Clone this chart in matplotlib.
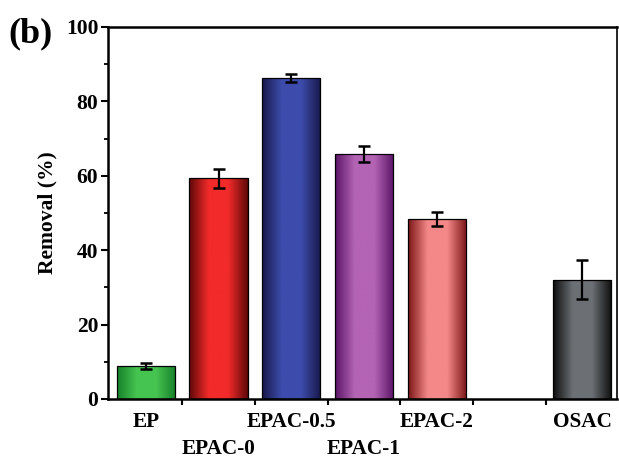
import matplotlib.pyplot as plt
import numpy as np
from matplotlib.colors import LinearSegmentedColormap

plt.rcParams['font.family'] = ['Liberation Serif', 'DejaVu Serif']
plt.rcParams['font.weight'] = 'bold'

labels = ['EP', 'EPAC-0', 'EPAC-0.5', 'EPAC-1', 'EPAC-2', 'OSAC']
positions = [0, 1, 2, 3, 4, 6]
removal = [8.9, 59.3, 86.4, 65.9, 48.5, 32.1]
errors = [0.8, 2.6, 1.1, 2.2, 1.9, 5.2]
# (edge colour, centre colour) of each bar's horizontal gradient
shades = [('#17802a', '#45c450'),
          ('#5e0808', '#f22a2a'),
          ('#17184a', '#3d4cac'),
          ('#5a1466', '#b464b4'),
          ('#7a1515', '#f48888'),
          ('#0c0c0c', '#6c7074')]

fig = plt.figure(figsize=(6.19, 4.59), dpi=100)
ax = fig.add_axes([108 / 619, 1 - 399 / 459, (617 - 108) / 619, (399 - 27) / 459])

width = 0.8
bars = ax.bar(positions, removal, width=width, color='none', edgecolor='black',
              linewidth=0.9, zorder=3)
for bar, (edge, mid) in zip(bars, shades):
    cmap = LinearSegmentedColormap.from_list('g', [edge, mid, mid, edge])
    x0, y0 = bar.get_x(), bar.get_y()
    grad = np.linspace(0, 1, 256).reshape(1, -1)
    im = ax.imshow(grad, cmap=cmap, aspect='auto', zorder=2,
                   extent=[x0, x0 + bar.get_width(), y0, y0 + bar.get_height()])
    im.set_clip_path(bar)

ax.errorbar(positions, removal, yerr=errors, fmt='none', ecolor='black',
            elinewidth=1.6, capsize=4.5, capthick=1.8, zorder=4)

ax.set_xlim(-0.52, 6.48)
ax.set_ylim(0, 100)

ax.set_xticks([0.5, 1.5, 2.5, 3.5, 4.5, 5.5])
ax.set_xticklabels([])
ax.tick_params(axis='x', direction='out', length=4, width=1.5)
ax.set_yticks([0, 20, 40, 60, 80, 100])
ax.set_yticks([10, 30, 50, 70, 90], minor=True)
ax.tick_params(axis='y', which='major', direction='out', length=5, width=1.5,
               labelsize=15.5, pad=2)
ax.tick_params(axis='y', which='minor', direction='out', length=3, width=1.3)

for i, (p, lab) in enumerate(zip(positions, labels)):
    y = -0.062 if (i % 2 == 0 or lab == 'OSAC') else -0.135
    ax.text(p, y, lab, transform=ax.get_xaxis_transform(), ha='center',
            va='center', fontsize=15.3, fontweight='bold')

for s in ['left', 'bottom', 'top']:
    ax.spines[s].set_linewidth(1.8)
ax.spines['right'].set_linewidth(1.2)

ax.set_ylabel('Removal (%)', fontsize=15.5, fontweight='bold', labelpad=6)
fig.text(8 / 619, 1 - 34 / 459, '(b)', fontsize=26, fontweight='bold',
         va='center', ha='left')

fig.savefig('out.png', dpi=100)
